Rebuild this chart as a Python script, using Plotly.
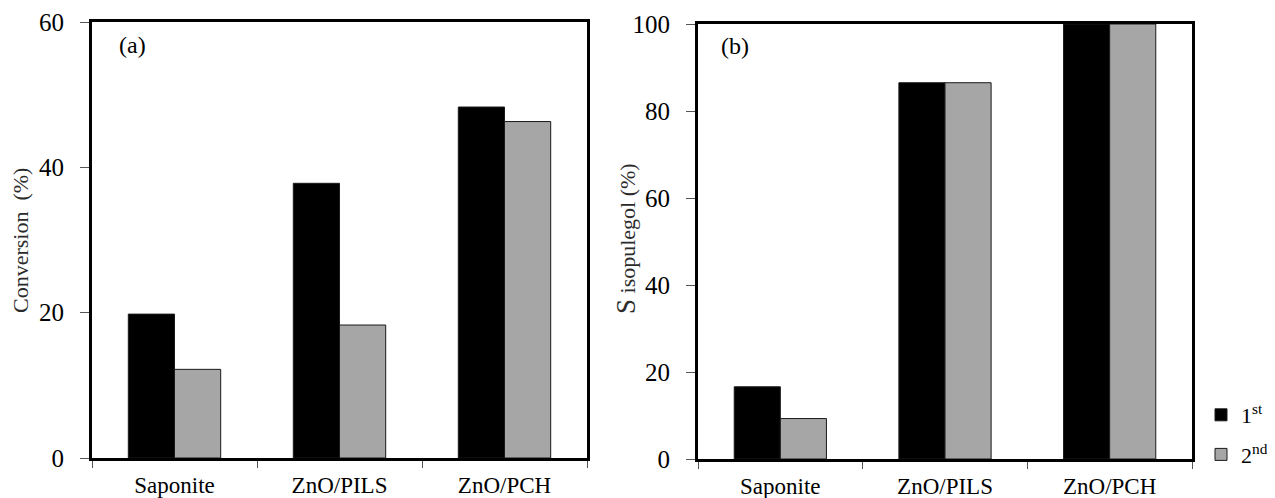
import plotly.graph_objects as go

categories = ["Saponite", "ZnO/PILS", "ZnO/PCH"]
conv_1st = [19.8, 37.8, 48.3]
conv_2nd = [12.2, 18.3, 46.3]
sel_1st = [16.6, 86.5, 100.0]
sel_2nd = [9.3, 86.5, 100.0]
run_names = ["1<sup>st</sup>", "2<sup>nd</sup>"]

# page body has an 8px margin, so the figure is drawn 8px smaller and offset
OFF = 8
W, H = 1275 - OFF, 498 - OFF
FONT = "Liberation Serif, Times New Roman, serif"
BLACK = "#000000"
GRAY = "#a6a6a6"
EDGE = "#1a1a1a"

fig = go.Figure()

def add_bars(vals1, vals2, xa, ya, show):
    fig.add_trace(go.Bar(x=categories, y=vals1, name=run_names[0], marker=dict(color=BLACK, line=dict(color=EDGE, width=1)),
                         xaxis=xa, yaxis=ya, showlegend=show, legendgroup="a"))
    fig.add_trace(go.Bar(x=categories, y=vals2, name=run_names[1], marker=dict(color=GRAY, line=dict(color=EDGE, width=1)),
                         xaxis=xa, yaxis=ya, showlegend=show, legendgroup="b"))

add_bars(conv_1st, conv_2nd, "x", "y", False)
add_bars(sel_1st, sel_2nd, "x2", "y2", True)

def px_x(p):
    return (p - OFF) / W

def px_y(p):
    return 1 - (p - OFF) / H

xcommon = dict(type="category", showline=True, linecolor=BLACK, linewidth=3, mirror=True,
               ticks="outside", tickson="boundaries", ticklen=7, tickcolor="#555", tickwidth=1,
               ticklabelstandoff=4,
               tickfont=dict(family=FONT, size=23, color=BLACK), showgrid=False, zeroline=False)
ycommon = dict(showline=True, linecolor=BLACK, linewidth=3, mirror=True,
               ticks="outside", ticklen=9, tickcolor="#555", tickwidth=1,
               ticklabelstandoff=11,
               tickfont=dict(family=FONT, size=25, color=BLACK), showgrid=False, zeroline=False)

fig.update_layout(
    width=W, height=H, margin=dict(l=0, r=0, t=0, b=0, autoexpand=False),
    paper_bgcolor="white", plot_bgcolor="white",
    barmode="group", bargap=0.44, bargroupgap=0,
    xaxis=dict(domain=[px_x(92), px_x(587)], anchor="y", **xcommon),
    yaxis=dict(domain=[px_y(458), px_y(22)], anchor="x", range=[0, 60], tickvals=[0, 20, 40, 60], **ycommon),
    xaxis2=dict(domain=[px_x(698), px_x(1192)], anchor="y2", **xcommon),
    yaxis2=dict(domain=[px_y(459), px_y(24)], anchor="x2", range=[0, 100], tickvals=[0, 20, 40, 60, 80, 100], **ycommon),
    legend=dict(x=px_x(1201), y=px_y(394), xanchor="left", yanchor="top",
                font=dict(family=FONT, size=22, color=BLACK), bgcolor="rgba(0,0,0,0)",
                tracegroupgap=8),
    showlegend=True,
)

fig.add_annotation(text="Conversion  (%)", textangle=-90, x=px_x(21), y=px_y(241), xref="paper", yref="paper",
                   xanchor="center", yanchor="middle",
                   showarrow=False, font=dict(family=FONT, size=22, color="#2b2b2b"))
fig.add_annotation(text="<span style='font-size:27px'>S</span> isopulegol (%)", textangle=-90,
                   x=px_x(626), y=px_y(239), xref="paper", yref="paper",
                   xanchor="center", yanchor="middle",
                   showarrow=False, font=dict(family=FONT, size=22, color="#2b2b2b"))
fig.add_annotation(text="(a)", x=px_x(132), y=px_y(45), xref="paper", yref="paper",
                   xanchor="center", yanchor="middle",
                   showarrow=False, font=dict(family=FONT, size=24, color=BLACK))
fig.add_annotation(text="(b)", x=px_x(735), y=px_y(46), xref="paper", yref="paper",
                   xanchor="center", yanchor="middle",
                   showarrow=False, font=dict(family=FONT, size=24, color=BLACK))

fig.write_html("out.html")
